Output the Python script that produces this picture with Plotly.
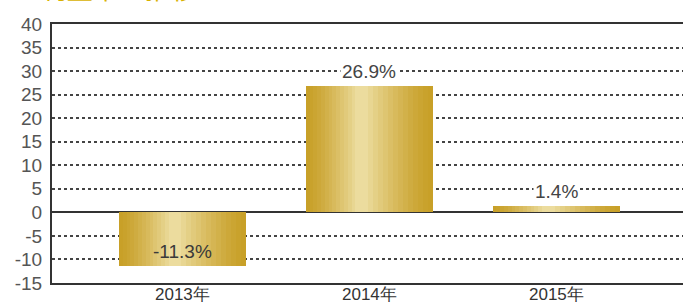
import plotly.graph_objects as go

categories = ["2013年", "2014年", "2015年"]
values = [-11.3, 26.9, 1.4]
value_labels = ["-11.3%", "26.9%", "1.4%"]
y_ticks = [40, 35, 30, 25, 20, 15, 10, 5, 0, -5, -10, -15]
y_tick_labels = ["40", "35", "30", "25", "20", "15", "10", "5", "0", "-5", "-10", "-15"]
title_text = "■ 利益率の推移"

xpos = list(range(len(categories)))

fig = go.Figure()

# layered bars to imitate a horizontal gold gradient
edge = (200, 160, 40)
mid = (236, 220, 158)
n_layers = 14
full_w = 0.68
for i in range(n_layers):
    t = i / (n_layers - 1)
    col = tuple(int(edge[k] + (mid[k] - edge[k]) * (t ** 1.3)) for k in range(3))
    w = full_w * (1 - t * 0.9)
    fig.add_trace(go.Bar(
        x=xpos, y=values, width=w,
        offset=-w / 2 - full_w * 0.06 * t,
        marker=dict(color="rgb(%d,%d,%d)" % col, line=dict(width=0)),
        hoverinfo="skip", showlegend=False,
    ))

annotations = []
for x, v, lab in zip(xpos, values, value_labels):
    if v >= 0:
        annotations.append(dict(x=x, y=v, text=lab, showarrow=False, yanchor="bottom",
                                yshift=2, bgcolor="white", borderpad=1,
                                font=dict(size=19, color="#444", family="Liberation Sans")))
    else:
        annotations.append(dict(x=x, y=v, text=lab, showarrow=False, yanchor="bottom",
                                yshift=2, font=dict(size=19, color="#3a3a3a", family="Liberation Sans")))

for x, lab in zip(xpos, categories):
    annotations.append(dict(x=x, xref="x", y=0, yref="paper", yanchor="top", yshift=0,
                            text=lab, showarrow=False,
                            font=dict(size=17, color="#333", family="Liberation Sans")))

annotations.append(dict(xref="paper", yref="paper", x=-0.072, y=1.0, yshift=16,
                        xanchor="left", yanchor="bottom", text=title_text, showarrow=False,
                        font=dict(size=26, color="#d8b100", family="Noto Sans CJK JP")))

fig.update_layout(
    width=683, height=304,
    margin=dict(l=52, r=0, t=24, b=21, autoexpand=False),
    paper_bgcolor="white", plot_bgcolor="white",
    barmode="overlay", bargap=0,
    annotations=annotations,
    xaxis=dict(range=[-0.699, 2.68], tickvals=xpos, showticklabels=False,
               showgrid=False, zeroline=False, showline=True, mirror=True,
               linecolor="#333", linewidth=2, automargin=False),
    yaxis=dict(range=[-15, 40], tickvals=y_ticks, ticktext=y_tick_labels,
               showgrid=True, gridcolor="#444",
               griddash="dot", gridwidth=1.5, zeroline=True, zerolinecolor="#333",
               zerolinewidth=2, showline=True, linecolor="#333", linewidth=2,
               ticks="", ticklabelstandoff=4, automargin=False,
               tickfont=dict(size=19, color="#555", family="Liberation Sans")),
)

fig.write_html("out.html", config={"displayModeBar": False},
               post_script="document.body.style.margin='0';document.body.style.overflow='hidden';")
